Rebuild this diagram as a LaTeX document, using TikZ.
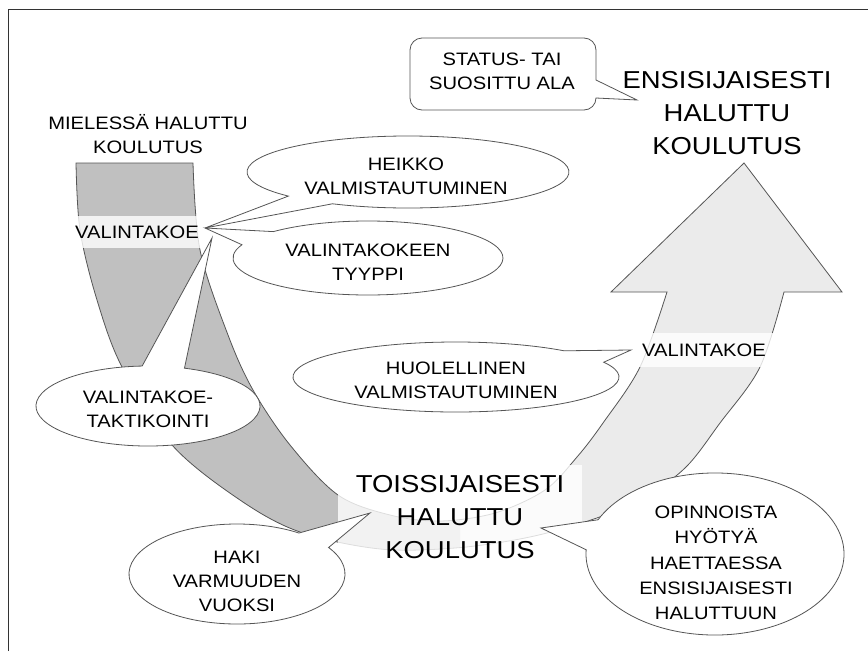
\documentclass[tikz,border=0pt]{standalone}
\usepackage{fontspec}
\setmainfont{Liberation Sans}[FakeStretch=1.12]
\definecolor{bandgray}{RGB}{192,192,192}
\definecolor{arrowgray}{RGB}{235,235,235}
\definecolor{edgegray}{RGB}{85,85,85}

% the curved band: grey down-stroke, light up-stroke with its arrow head
\def\bandpath{(76,163) -- (193,163)
  -- plot[smooth, tension=0.55] coordinates {(193,163) (200,250) (228,335) (253,390) (290,445) (338,495) (390,515) (440,521) (495,513) (545,490) (577,457) (603,423) (640,367) (667,292)}
  -- (611,292) -- (744,163) -- (842,292) -- (784,292)
  -- plot[smooth, tension=0.55] coordinates {(784,292) (760,367) (720,423) (685,468) (640,500) (585,522) (525,538) (455,548) (380,549) (300,532) (240,500) (172,445) (122,367) (97,300) (80,230) (76,163)}
  -- cycle}

\begin{document}
\begin{tikzpicture}[x=1pt, y=-1pt,
  lbl/.style={font=\fontsize{18}{24}\selectfont, align=center, inner sep=0pt},
  head/.style={font=\fontsize{24.5}{33}\selectfont, align=center, inner sep=0pt},
  shade/.style={fill=white, fill opacity=0.8, text opacity=1},
  bubble/.style={draw=edgegray, fill=white, line width=0.8pt},
  frame/.style={draw=black!80, line width=0.9pt}]
\useasboundingbox (0,0) rectangle (868,651);

% band
\fill[arrowgray] \bandpath;
\begin{scope}
  \clip (0,0) rectangle (460,651);
  \fill[bandgray] \bandpath;
\end{scope}
\draw[edgegray, line width=0.8pt] \bandpath;

% labels sitting on the band
\node[lbl, shade, minimum width=135pt, minimum height=32pt] (koe1) at (137,232) {VALINTAKOE};
\node[lbl, shade, minimum width=140pt, minimum height=34pt] (koe2) at (704,350) {VALINTAKOE};
\node[head, shade, minimum width=244pt, minimum height=104pt] (toissij) at (460,517) {TOISSIJAISESTI\\HALUTTU\\KOULUTUS};

% callouts
\draw[bubble] (408,172) ++(138:161 and 36) arc[start angle=138, end angle=478, x radius=161, y radius=36] -- (205,228) -- cycle;
\draw[bubble] (368,258) ++(225.5:135 and 37) arc[start angle=225.5, end angle=561, x radius=135, y radius=37] -- (205,228) -- cycle;
\draw[bubble] (148,406) ++(289:112 and 40) arc[start angle=289, end angle=627, x radius=112, y radius=40] -- (212,238) -- cycle;
\draw[bubble] (456,377) ++(335:163 and 35) arc[start angle=335, end angle=671.5, x radius=163, y radius=35] -- (631,350) -- cycle;
\draw[bubble] (237,574) ++(328:108 and 50) arc[start angle=328, end angle=665, x radius=108, y radius=50] -- (370,513) -- cycle;
\draw[bubble] (715,554) ++(205:129 and 81) arc[start angle=205, end angle=543, x radius=129, y radius=81] -- (541,528) -- cycle;
\draw[bubble] (596,80) -- (637,100) -- (596,98)
  arc[start angle=0, end angle=90, radius=12] -- (422,110)
  arc[start angle=90, end angle=180, radius=12] -- (410,50)
  arc[start angle=180, end angle=270, radius=12] -- (584,38)
  arc[start angle=270, end angle=360, radius=12] -- cycle;

\node[lbl] (heikko) at (406,176) {HEIKKO\\VALMISTAUTUMINEN};
\node[lbl] (tyyppi) at (368,262) {VALINTAKOKEEN\\TYYPPI};
\node[lbl] (taktik) at (148,409) {VALINTAKOE-\\TAKTIKOINTI};
\node[lbl] (huol) at (456,380) {HUOLELLINEN\\VALMISTAUTUMINEN};
\node[lbl] (haki) at (237,581) {HAKI\\VARMUUDEN\\VUOKSI};
\node[lbl, font=\fontsize{18}{25.3}\selectfont] (hyoty) at (716,563) {OPINNOISTA\\HYÖTYÄ\\HAETTAESSA\\ENSISIJAISESTI\\HALUTTUUN};
\node[lbl] (status) at (502,71) {STATUS- TAI\\SUOSITTU ALA};

% free titles
\node[lbl] (mielessa) at (148,134) {MIELESSÄ HALUTTU\\KOULUTUS};
\node[head] (ensisij) at (727,113) {ENSISIJAISESTI\\HALUTTU\\KOULUTUS};

\draw[frame] (8,651) -- (8,9) -- (868,9);
\end{tikzpicture}
\end{document}
